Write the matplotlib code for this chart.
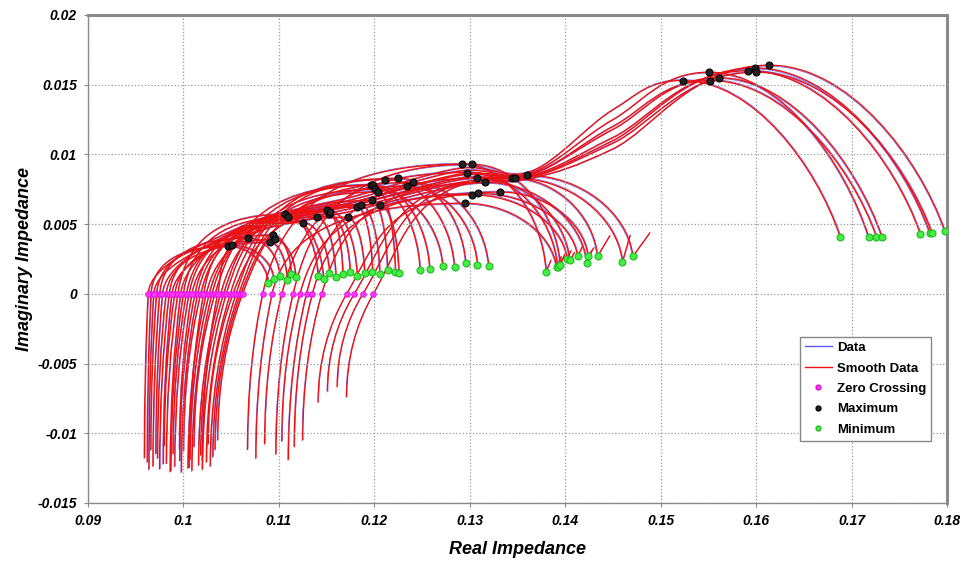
"""
Nyquist curves - real vs imaginary impedance with zero crossing / max / min markers
"""

import matplotlib
matplotlib.use('Agg')
import matplotlib.pyplot as plt
import matplotlib.transforms as mtransforms
from matplotlib.path import Path
from matplotlib.patches import PathPatch
from matplotlib.lines import Line2D

plt.rcParams['font.family'] = ['Liberation Sans', 'DejaVu Sans']

# ---- group 1: short arcs, maximum between 0.104 and 0.124 ----
g1_zero = [0.0966, 0.0972, 0.0975, 0.0982, 0.0985, 0.0991, 0.0994, 0.1000, 0.1003, 0.1006,
           0.1012, 0.1015, 0.1018, 0.1024, 0.1027, 0.1030, 0.1033, 0.1039, 0.1042, 0.1045,
           0.1049, 0.1052, 0.1055, 0.1058, 0.1060, 0.1062]
g1_bot_x = [0.0962, 0.0966, 0.0968, 0.0973, 0.0975, 0.0980, 0.0982, 0.0987, 0.0989, 0.0991,
            0.0996, 0.0998, 0.1000, 0.1005, 0.1007, 0.1009, 0.1011, 0.1016, 0.1018, 0.1020,
            0.1024, 0.1026, 0.1028, 0.1031, 0.1033, 0.1036]
g1_bot_y = [-0.0121, -0.0112, -0.0124, -0.0118, -0.0126, -0.0109, -0.0122, -0.0127, -0.0115, -0.0124,
            -0.0120, -0.0128, -0.0113, -0.0125, -0.0119, -0.0127, -0.0110, -0.0123, -0.0116, -0.0126,
            -0.0121, -0.0108, -0.0124, -0.0117, -0.0112, -0.0105]
g1_max_x = [0.1047, 0.1051, 0.1068, 0.1091, 0.1094, 0.1096, 0.1106, 0.1110, 0.1125, 0.1140,
            0.1150, 0.1152, 0.1154, 0.1172, 0.1182, 0.1186, 0.1196, 0.1198, 0.1199, 0.1201,
            0.1204, 0.1206, 0.1211, 0.1225, 0.1234, 0.1240]
g1_max_y = [0.0034, 0.0035, 0.0040, 0.0037, 0.0042, 0.0039, 0.0057, 0.0055, 0.0051, 0.0055,
            0.0060, 0.0057, 0.0059, 0.0055, 0.0062, 0.0064, 0.0078, 0.0067, 0.0078, 0.0075,
            0.0073, 0.0064, 0.0082, 0.0083, 0.0077, 0.0080]
g1_min_x = [0.1089, 0.1095, 0.1101, 0.1109, 0.1113, 0.1118, 0.1141, 0.1147, 0.1153, 0.1160,
            0.1167, 0.1175, 0.1182, 0.1190, 0.1198, 0.1206, 0.1248, 0.1214, 0.1258, 0.1272,
            0.1222, 0.1226, 0.1284, 0.1296, 0.1308, 0.1320]
g1_min_y = [0.0008, 0.0011, 0.0013, 0.0010, 0.0014, 0.0012, 0.0013, 0.0011, 0.0015, 0.0012,
            0.0014, 0.0016, 0.0013, 0.0015, 0.0016, 0.0014, 0.0017, 0.0017, 0.0018, 0.0020,
            0.0016, 0.0015, 0.0019, 0.0022, 0.0021, 0.0020]

# ---- group 2: arcs with maximum near 0.13 ----
g2_zero = [0.1083, 0.1093, 0.1103, 0.1115, 0.1122, 0.1129, 0.1135, 0.1145, 0.1171, 0.1179, 0.1188, 0.1199]
g2_bot_x = [0.1067, 0.1076, 0.1085, 0.1097, 0.1103, 0.1110, 0.1116, 0.1125, 0.1141, 0.1151, 0.1161, 0.1171]
g2_bot_y = [-0.0112, -0.0118, -0.0108, -0.0115, -0.0106, -0.0119, -0.0110, -0.0105, -0.0078, -0.0070, -0.0067, -0.0074]
g2_max_x = [0.1292, 0.1295, 0.1297, 0.1302, 0.1302, 0.1308, 0.1309, 0.1316, 0.1332, 0.1344, 0.1347, 0.1360]
g2_max_y = [0.0093, 0.0065, 0.0087, 0.0093, 0.0071, 0.0083, 0.0072, 0.0080, 0.0073, 0.0083, 0.0083, 0.0085]
g2_min_x = [0.1380, 0.1391, 0.1392, 0.1395, 0.1402, 0.1405, 0.1413, 0.1423, 0.1424, 0.1434, 0.1460, 0.1471]
g2_min_y = [0.0016, 0.0019, 0.0019, 0.0021, 0.0025, 0.0024, 0.0027, 0.0022, 0.0027, 0.0027, 0.0023, 0.0027]
g2_end_x = [0.1385, 0.1396, 0.1398, 0.1400, 0.1406, 0.1410, 0.1418, 0.1428, 0.1430, 0.1447, 0.1468, 0.1489]
g2_end_y = [0.0024, 0.0027, 0.0026, 0.0029, 0.0031, 0.0030, 0.0034, 0.0031, 0.0033, 0.0042, 0.0042, 0.0044]

# ---- group 3: long curves climbing to the big arc ----
g3_zero = [0.0963, 0.0969, 0.0978, 0.0988, 0.0997, 0.1009, 0.1021, 0.1036]
g3_bot_x = [0.0959, 0.0964, 0.0971, 0.0979, 0.0986, 0.0996, 0.1006, 0.1020]
g3_bot_y = [-0.0118, -0.0126, -0.0115, -0.0122, -0.0128, -0.0111, -0.0125, -0.0119]
g3_via_x = [0.106, 0.118, 0.129, 0.1365, 0.145]
g3_via_y = [[0.0048, 0.0070, 0.0090, 0.0088, 0.0132],
            [0.0045, 0.0066, 0.0086, 0.0087, 0.0125],
            [0.0047, 0.0068, 0.0088, 0.0086, 0.0120],
            [0.0043, 0.0064, 0.0082, 0.0086, 0.0118],
            [0.0046, 0.0066, 0.0085, 0.0085, 0.0112],
            [0.0042, 0.0062, 0.0080, 0.0084, 0.0110],
            [0.0044, 0.0064, 0.0083, 0.0084, 0.0108],
            [0.0040, 0.0060, 0.0078, 0.0083, 0.0104]]
g3_max_x = [0.1523, 0.1551, 0.1552, 0.1561, 0.1592, 0.1599, 0.1600, 0.1614]
g3_max_y = [0.0153, 0.0159, 0.0153, 0.0155, 0.0160, 0.0162, 0.0159, 0.0164]
g3_min_x = [0.1688, 0.1718, 0.1726, 0.1732, 0.1772, 0.1782, 0.1784, 0.1798]
g3_min_y = [0.0041, 0.0041, 0.0041, 0.0041, 0.0043, 0.0044, 0.0044, 0.0045]

x_ticks = [0.09, 0.10, 0.11, 0.12, 0.13, 0.14, 0.15, 0.16, 0.17, 0.18]
x_labels = ['0.09', '0.1', '0.11', '0.12', '0.13', '0.14', '0.15', '0.16', '0.17', '0.18']
y_ticks = [-0.015, -0.01, -0.005, 0, 0.005, 0.01, 0.015, 0.02]
y_labels = ['-0.015', '-0.01', '-0.005', '0', '0.005', '0.01', '0.015', '0.02']

RED = '#ee1111'
BLUE = '#5a5aff'


def lower_part(bx, by, zx):
    """从底部到零点"""
    verts = [(bx, by), (bx, by * 0.45), (zx, 0.0)]
    codes = [Path.MOVETO, Path.CURVE3, Path.CURVE3]
    return verts, codes


def start_ctrl(bx, by, zx, h):
    # 沿着下半段的切线继续向上
    s = h / (-0.45 * by)
    return (zx + s * (zx - bx), h)


def descent(mx, my, nx, ny, a=0.5, b=0.05, c=0.55):
    verts = [(mx + a * (nx - mx), my), (nx - b * (nx - mx), ny + c * (my - ny)), (nx, ny)]
    return verts, [Path.CURVE4] * 3


def arc_curve(bx, by, zx, mx, my, nx, ny, ex=None, ey=None):
    verts, codes = lower_part(bx, by, zx)
    c1 = start_ctrl(bx, by, zx, 0.5 * my)
    c2 = (max(c1[0], zx + 0.25 * (mx - zx)), my)
    verts += [c1, c2, (mx, my)]
    codes += [Path.CURVE4] * 3
    v, c = descent(mx, my, nx, ny)
    verts += v
    codes += c
    if ex is not None:
        verts.append((ex, ey))
        codes.append(Path.LINETO)
    return Path(verts, codes)


def long_curve(bx, by, zx, vias, mx, my, nx, ny):
    verts, codes = lower_part(bx, by, zx)
    pts = [(zx, 0.0)] + vias + [(mx, my)]
    c1 = start_ctrl(bx, by, zx, 0.45 * vias[0][1])
    tans = [(3 * (c1[0] - zx), 3 * c1[1])]
    for i in range(1, len(pts) - 1):
        tans.append(((pts[i + 1][0] - pts[i - 1][0]) / 2, (pts[i + 1][1] - pts[i - 1][1]) / 2))
    tans.append((1.5 * (mx - pts[-2][0]), 0.0))
    for i in range(len(pts) - 1):
        p0, p1 = pts[i], pts[i + 1]
        verts += [(p0[0] + tans[i][0] / 3, p0[1] + tans[i][1] / 3),
                  (p1[0] - tans[i + 1][0] / 3, p1[1] - tans[i + 1][1] / 3), p1]
        codes += [Path.CURVE4] * 3
    v, c = descent(mx, my, nx, ny, a=0.45, b=0.15, c=0.45)
    verts += v
    codes += c
    return Path(verts, codes)


paths = []
for i in range(len(g1_zero)):
    paths.append(arc_curve(g1_bot_x[i], g1_bot_y[i], g1_zero[i], g1_max_x[i], g1_max_y[i],
                           g1_min_x[i], g1_min_y[i]))
for i in range(len(g2_zero)):
    paths.append(arc_curve(g2_bot_x[i], g2_bot_y[i], g2_zero[i], g2_max_x[i], g2_max_y[i],
                           g2_min_x[i], g2_min_y[i], g2_end_x[i], g2_end_y[i]))
for i in range(len(g3_zero)):
    vias = list(zip(g3_via_x, g3_via_y[i]))
    paths.append(long_curve(g3_bot_x[i], g3_bot_y[i], g3_zero[i], vias, g3_max_x[i], g3_max_y[i],
                            g3_min_x[i], g3_min_y[i]))

fig = plt.figure(figsize=(9.65, 5.62), dpi=100)
ax = fig.add_axes([88 / 965, 59 / 562, 859 / 965, 488 / 562])

# 原始数据（蓝色）稍微错开一点
for k, p in enumerate(paths):
    sgn = 1 if k % 2 == 0 else -1
    tr = mtransforms.offset_copy(ax.transData, fig=fig, x=0.6 * sgn, y=0.9 * sgn, units='dots')
    ax.add_patch(PathPatch(p, fill=False, edgecolor=BLUE, lw=0.6, alpha=0.85, transform=tr))
for p in paths:
    ax.add_patch(PathPatch(p, fill=False, edgecolor=RED, lw=1.0))

zero_x = g1_zero + g2_zero + g3_zero
max_x = g1_max_x + g2_max_x + g3_max_x
max_y = g1_max_y + g2_max_y + g3_max_y
min_x = g1_min_x + g2_min_x + g3_min_x
min_y = g1_min_y + g2_min_y + g3_min_y

ax.plot(zero_x, [0] * len(zero_x), 'o', ms=4, mfc='#ff33ff', mec='#dd11dd', mew=0.6, zorder=5)
ax.plot(max_x, max_y, 'o', ms=5, mfc='#222222', mec='#000000', mew=0.8, zorder=5)
ax.plot(min_x, min_y, 'o', ms=5, mfc='#44ee44', mec='#22bb22', mew=0.8, zorder=5)

ax.set_xlim(0.09, 0.18)
ax.set_ylim(-0.015, 0.02)
ax.set_xticks(x_ticks)
ax.set_xticklabels(x_labels)
ax.set_yticks(y_ticks)
ax.set_yticklabels(y_labels)
for lab in ax.get_xticklabels() + ax.get_yticklabels():
    lab.set_fontweight('bold')
    lab.set_fontstyle('italic')
    lab.set_fontsize(10)
ax.tick_params(direction='out', length=3, color='#888888', pad=5)
ax.grid(True, linestyle=':', color='#999999', lw=0.9)

for side in ['left', 'bottom']:
    ax.spines[side].set_color('#8a8a8a')
    ax.spines[side].set_linewidth(1.0)
for side in ['top', 'right']:
    ax.spines[side].set_color('#8a8a8a')
    ax.spines[side].set_linewidth(2.2)

ax.set_xlabel('Real Impedance', fontsize=13, fontweight='bold', fontstyle='italic', labelpad=9)
ax.set_ylabel('Imaginary Impedance', fontsize=13, fontweight='bold', fontstyle='italic', labelpad=3)

handles = [
    Line2D([], [], color=BLUE, lw=1.0),
    Line2D([], [], color=RED, lw=1.0),
    Line2D([], [], ls='none', marker='o', ms=3.5, mfc='#ff33ff', mec='#dd11dd'),
    Line2D([], [], ls='none', marker='o', ms=3.5, mfc='#222222', mec='#000000'),
    Line2D([], [], ls='none', marker='o', ms=3.5, mfc='#44ee44', mec='#22bb22'),
]
leg = ax.legend(handles, ['Data', 'Smooth Data', 'Zero Crossing', 'Maximum', 'Minimum'],
                loc='upper left', bbox_to_anchor=(0.821, 0.3545), fancybox=False, framealpha=1,
                edgecolor='#888888', prop={'weight': 'bold', 'size': 9.5},
                handlelength=2.0, labelspacing=0.62, borderpad=0.4, handletextpad=0.4)
leg.get_frame().set_linewidth(1.0)

fig.savefig('out.png', dpi=100)
